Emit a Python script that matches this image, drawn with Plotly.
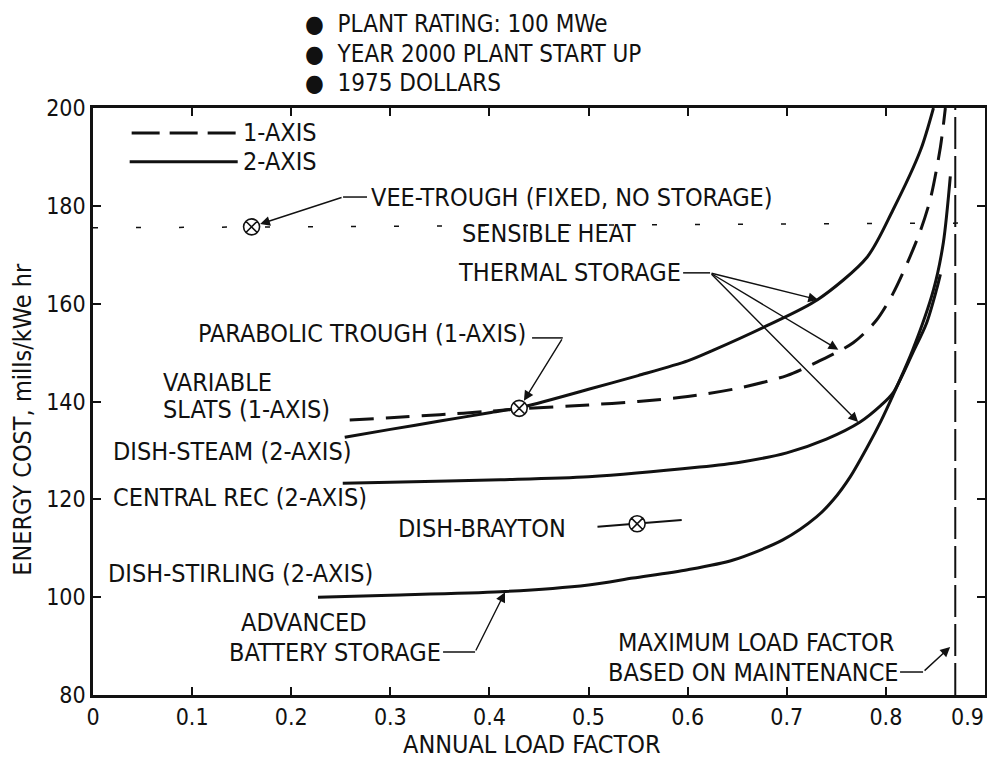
import plotly.graph_objects as go

FONT = "Liberation Sans Narrow, DejaVu Sans Condensed, Roboto, sans-serif"
INK = "#111111"

# ---- values ----
x_ticks = [0, 0.1, 0.2, 0.3, 0.4, 0.5, 0.6, 0.7, 0.8, 0.9]
x_tick_text = ["0", "0.1", "0.2", "0.3", "0.4", "0.5", "0.6", "0.7", "0.8", "0.9"]
y_ticks = [80, 100, 120, 140, 160, 180, 200]

# dish-steam (2-axis) with sensible heat storage
steam_x = [0.254, 0.30, 0.35, 0.40, 0.43, 0.50, 0.55, 0.60, 0.626, 0.68, 0.731, 0.781, 0.807, 0.835, 0.848]
steam_y = [132.7, 134.3, 136.0, 137.7, 138.7, 142.5, 145.3, 148.3, 150.5, 155.5, 160.8, 169.5, 179.1, 191.4, 200.0]

# parabolic trough / variable slats (1-axis)
trough_x = [0.259, 0.30, 0.35, 0.40, 0.43, 0.50, 0.55, 0.60, 0.653, 0.70, 0.731, 0.767, 0.79, 0.807, 0.822, 0.835, 0.845, 0.855, 0.86]
trough_y = [136.2, 136.7, 137.3, 138.0, 138.5, 139.3, 140.0, 141.0, 142.8, 145.3, 148.1, 152.0, 156.5, 162.0, 168.5, 175.0, 181.5, 192.0, 200.0]

# central receiver (2-axis)
central_x = [0.252, 0.30, 0.411, 0.50, 0.612, 0.653, 0.70, 0.74, 0.774, 0.795, 0.807, 0.827, 0.841, 0.851, 0.855]
central_y = [123.3, 123.5, 124.0, 124.6, 126.6, 127.6, 129.5, 132.3, 135.8, 139.2, 141.7, 149.9, 156.0, 162.8, 166.0]

# dish-stirling (2-axis) with advanced battery storage
stirling_x = [0.227, 0.30, 0.411, 0.50, 0.545, 0.60, 0.646, 0.696, 0.730, 0.747, 0.764, 0.781, 0.795, 0.807, 0.827, 0.848, 0.858, 0.865]
stirling_y = [100.0, 100.4, 101.1, 102.5, 103.9, 105.6, 107.6, 111.7, 116.4, 119.9, 124.6, 130.6, 136.0, 141.2, 150.5, 162.8, 172.5, 186.0]

# dish-brayton (short range)
brayton_x = [0.509, 0.549, 0.594]
brayton_y = [114.4, 115.0, 115.8]

# vee-trough (fixed, no storage)
vee_x = [0.0, 0.9]
vee_y = [175.5, 176.5]

# single design points
point_x = [0.16, 0.43, 0.549]
point_y = [175.7, 138.6, 115.0]

max_load_factor = 0.87

header_lines = ["\u25cf  PLANT RATING: 100 MWe", "\u25cf  YEAR 2000 PLANT START UP", "\u25cf  1975 DOLLARS"]
header_y = [1.143, 1.0923, 1.0426]

fig = go.Figure()

line_solid = dict(color=INK, width=3, shape="spline", smoothing=0.8)
line_dash = dict(color=INK, width=3, shape="spline", smoothing=0.8, dash="24px,12px")

fig.add_trace(go.Scatter(x=vee_x, y=vee_y, mode="lines",
                         line=dict(color=INK, width=1.5, dash="5px,38px")))
fig.add_trace(go.Scatter(x=[max_load_factor, max_load_factor], y=[80, 200], mode="lines",
                         line=dict(color=INK, width=2, dash="32px,7px")))
fig.add_trace(go.Scatter(x=steam_x, y=steam_y, mode="lines", line=line_solid))
fig.add_trace(go.Scatter(x=trough_x, y=trough_y, mode="lines", line=line_dash))
fig.add_trace(go.Scatter(x=central_x, y=central_y, mode="lines", line=line_solid))
fig.add_trace(go.Scatter(x=stirling_x, y=stirling_y, mode="lines", line=line_solid))
fig.add_trace(go.Scatter(x=brayton_x, y=brayton_y, mode="lines", line=dict(color=INK, width=2)))
fig.add_trace(go.Scatter(x=point_x, y=point_y, mode="markers",
                         marker=dict(symbol="circle-x", size=16, color="white",
                                     line=dict(color=INK, width=1.6))))

# ---- text labels (data coords) ----
labels = [
    ("VEE-TROUGH (FIXED, NO STORAGE)", 0.2795, 181.8, "left"),
    ("SENSIBLE HEAT", 0.549, 174.4, "right"),
    ("THERMAL STORAGE", 0.5944, 166.3, "right"),
    ("PARABOLIC TROUGH (1-AXIS)", 0.438, 154.0, "right"),
    ("VARIABLE", 0.0696, 143.8, "left"),
    ("SLATS (1-AXIS)", 0.0696, 138.3, "left"),
    ("DISH-STEAM (2-AXIS)", 0.0192, 129.7, "left"),
    ("CENTRAL REC (2-AXIS)", 0.0192, 120.3, "left"),
    ("DISH-BRAYTON", 0.3068, 114.1, "left"),
    ("DISH-STIRLING (2-AXIS)", 0.014, 104.9, "left"),
    ("ADVANCED", 0.148, 94.9, "left"),
    ("BATTERY STORAGE", 0.352, 88.6, "right"),
    ("MAXIMUM LOAD FACTOR", 0.5288, 90.8, "left"),
    ("BASED ON MAINTENANCE", 0.8143, 84.7, "right"),
    ("1-AXIS", 0.150, 194.9, "left"),
    ("2-AXIS", 0.150, 189.0, "left"),
]
for txt, lx, ly, anchor in labels:
    fig.add_annotation(x=lx, y=ly, text=txt, showarrow=False, xanchor=anchor, yanchor="middle",
                       borderpad=0, font=dict(family=FONT, size=25, color=INK))

# leader stubs and arrows: (stub start, elbow/tail, [heads])
callouts = [
    ((0.2765, 181.8), (0.2523, 181.8), [(0.16, 175.7, 9)]),
    ((0.443, 153.0), (0.474, 153.0), [(0.43, 138.6, 9)]),
    ((0.5954, 166.3), (0.6226, 166.3), [(0.7316, 160.8, 0), (0.752, 150.6, 0), (0.772, 135.8, 0)]),
    ((0.3532, 88.8), (0.3855, 88.8), [(0.4157, 101.0, 0)]),
    ((0.8143, 84.7), (0.8375, 84.7), [(0.8648, 89.8, 0)]),
]
for (sx, sy), (tx, ty), heads in callouts:
    fig.add_shape(type="line", x0=sx, y0=sy, x1=tx, y1=ty, line=dict(color=INK, width=1.5))
    for hx, hy, so in heads:
        fig.add_annotation(x=hx, y=hy, ax=tx, ay=ty, axref="x", ayref="y", text="",
                           showarrow=True, arrowhead=2, arrowsize=1.4, arrowwidth=1.4,
                           arrowcolor=INK, standoff=so)

# legend keys
fig.add_shape(type="line", x0=0.039, y0=194.9, x1=0.146, y1=194.9,
              line=dict(color=INK, width=3, dash="28px,10px"))
fig.add_shape(type="line", x0=0.037, y0=189.0, x1=0.146, y1=189.0,
              line=dict(color=INK, width=3))

# header and axis titles
for h, hy in zip(header_lines, header_y):
    fig.add_annotation(x=0.2365, y=hy, xref="paper", yref="paper", text=h,
                       showarrow=False, xanchor="left", yanchor="middle", borderpad=0,
                       font=dict(family=FONT, size=24, color=INK))
fig.add_annotation(x=0.492, y=-0.085, xref="paper", yref="paper", text="ANNUAL LOAD FACTOR",
                   showarrow=False, xanchor="center", yanchor="middle",
                   font=dict(family=FONT, size=25, color=INK))
fig.add_annotation(x=-0.08, y=0.47, xref="paper", yref="paper", text="ENERGY COST, mills/kWe hr",
                   showarrow=False, textangle=-90, xanchor="center", yanchor="middle",
                   font=dict(family=FONT, size=25, color=INK))
# last x tick label sits against the right frame, so it is right-aligned
fig.add_annotation(x=x_ticks[-1], y=-0.0375, xref="x", yref="paper", text=x_tick_text[-1],
                   showarrow=False, xanchor="right", yanchor="middle", borderpad=0,
                   font=dict(family=FONT, size=23, color=INK))

axis_common = dict(showgrid=False, zeroline=False, showline=True, linecolor=INK, linewidth=2.5,
                   mirror="ticks", ticks="inside", ticklen=8, tickwidth=2, tickcolor=INK,
                   automargin=False, tickfont=dict(family=FONT, size=23, color=INK))
fig.update_xaxes(range=[0, 0.9], tickvals=x_ticks[:-1], ticktext=x_tick_text[:-1], **axis_common)
fig.update_yaxes(range=[80, 200], tickvals=y_ticks, **axis_common)

fig.update_layout(width=979, height=750, showlegend=False,
                  margin=dict(l=85, r=2, t=100, b=63, autoexpand=False),
                  plot_bgcolor="white", paper_bgcolor="white")

fig.write_html("out.html")
